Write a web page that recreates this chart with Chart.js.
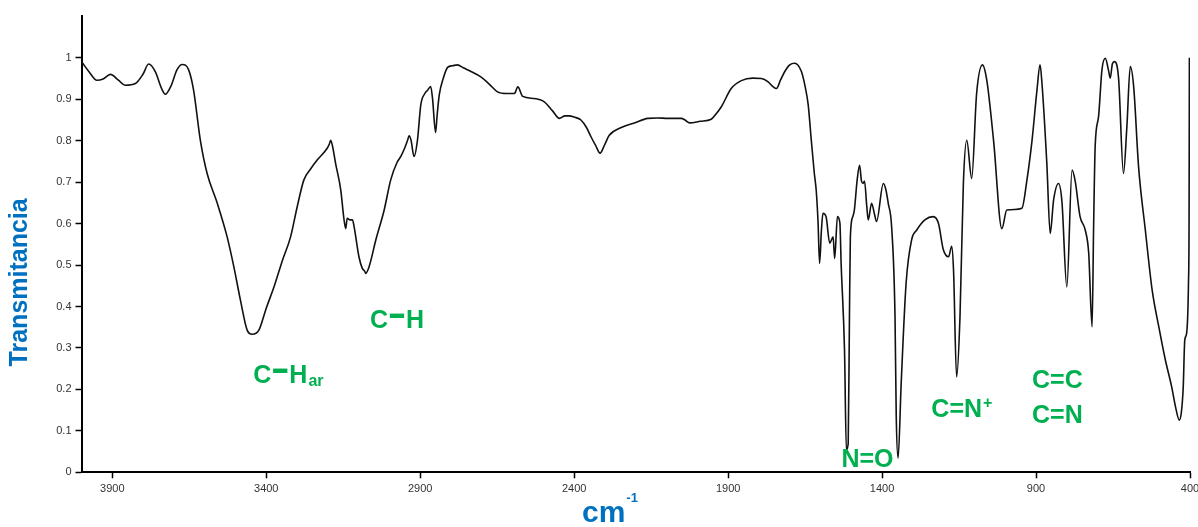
<!DOCTYPE html>
<html>
<head>
<meta charset="utf-8">
<title>Espectro IR</title>
<script src="https://cdn.jsdelivr.net/npm/chart.js@4.4.1/dist/chart.umd.min.js"></script>
<style>
  html, body { margin: 0; padding: 0; background: #ffffff; }
  #wrap { width: 1198px; height: 527px; position: relative; }
</style>
</head>
<body>
<div id="wrap"><canvas id="ir" width="1198" height="527"></canvas></div>
<script>
// Wavenumbers (cm-1), from high to low, and the transmittance at each one
const wavenumbers = [
  4000, 3975, 3950, 3930, 3906, 3880, 3858, 3825, 3800, 3782, 3760, 3740, 3728, 3710, 3690, 3673,
  3652, 3636, 3614, 3592, 3559, 3527, 3505, 3484, 3462, 3446, 3424, 3400, 3375, 3348, 3321, 3300,
  3278, 3255, 3234, 3202, 3195, 3191, 3185, 3175, 3158, 3148, 3142, 3137, 3128, 3120, 3115, 3099,
  3088, 3080, 3077, 3066, 3044, 3017, 2996, 2975, 2963, 2950, 2941, 2936, 2930, 2920, 2909, 2898,
  2885, 2876, 2866, 2860, 2850, 2845, 2838, 2825, 2811, 2795, 2779, 2760, 2735, 2703, 2675, 2649,
  2620, 2594, 2583, 2567, 2530, 2497, 2470, 2448, 2430, 2416, 2400, 2378, 2360, 2345, 2330, 2316,
  2300, 2286, 2247, 2204, 2161, 2130, 2096, 2052, 2040, 2025, 1990, 1955, 1940, 1922, 1890, 1857,
  1820, 1792, 1770, 1755, 1743, 1730, 1716, 1700, 1684, 1662, 1650, 1640, 1630, 1620, 1614, 1608,
  1603, 1597, 1592, 1582, 1570, 1559, 1554, 1545, 1537, 1533, 1522, 1516, 1510, 1506, 1503, 1495,
  1490, 1481, 1473, 1467, 1462, 1457, 1450, 1445, 1434, 1425, 1418, 1396, 1388, 1380, 1369, 1358,
  1354, 1348, 1338, 1322, 1304, 1288, 1261, 1234, 1217, 1201, 1184, 1174, 1168, 1158, 1147, 1136,
  1125, 1109, 1093, 1074, 1060, 1038, 1011, 995, 970, 946, 930, 913, 897, 887, 881, 865,
  854, 843, 827, 816, 800, 783, 773, 757, 740, 729, 718, 713, 708, 697, 686, 675,
  665, 659, 652, 645, 632, 616, 605, 594, 583, 567, 545, 523, 500, 480, 460, 447,
  435, 428, 422, 417, 411, 405, 403, 402
];
const transmittance = [
  0.991, 0.966, 0.946, 0.949, 0.960, 0.946, 0.934, 0.938, 0.961, 0.985, 0.966, 0.926, 0.912, 0.931, 0.971, 0.984,
  0.971, 0.922, 0.801, 0.721, 0.649, 0.568, 0.495, 0.416, 0.343, 0.333, 0.343, 0.396, 0.447, 0.510, 0.568, 0.639,
  0.705, 0.733, 0.754, 0.782, 0.792, 0.801, 0.788, 0.746, 0.681, 0.613, 0.588, 0.613, 0.609, 0.609, 0.594, 0.520,
  0.492, 0.485, 0.480, 0.496, 0.561, 0.633, 0.705, 0.748, 0.762, 0.783, 0.801, 0.812, 0.802, 0.762, 0.801, 0.887,
  0.914, 0.922, 0.931, 0.902, 0.820, 0.862, 0.911, 0.951, 0.977, 0.981, 0.983, 0.976, 0.967, 0.954, 0.936, 0.918,
  0.914, 0.914, 0.930, 0.907, 0.902, 0.894, 0.872, 0.854, 0.860, 0.860, 0.857, 0.850, 0.832, 0.809, 0.788, 0.770,
  0.792, 0.813, 0.832, 0.843, 0.854, 0.855, 0.854, 0.854, 0.850, 0.843, 0.847, 0.852, 0.864, 0.882, 0.926, 0.945,
  0.951, 0.950, 0.942, 0.931, 0.926, 0.946, 0.967, 0.983, 0.987, 0.967, 0.931, 0.887, 0.802, 0.721, 0.681, 0.604,
  0.504, 0.584, 0.625, 0.617, 0.553, 0.568, 0.516, 0.617, 0.601, 0.504, 0.295, 0.054, 0.070, 0.375, 0.568, 0.617,
  0.633, 0.705, 0.741, 0.703, 0.697, 0.703, 0.644, 0.609, 0.649, 0.624, 0.605, 0.697, 0.683, 0.649, 0.592, 0.375,
  0.134, 0.034, 0.214, 0.456, 0.561, 0.584, 0.609, 0.617, 0.601, 0.537, 0.520, 0.545, 0.488, 0.230, 0.375, 0.697,
  0.801, 0.709, 0.914, 0.983, 0.946, 0.801, 0.588, 0.633, 0.634, 0.637, 0.703, 0.801, 0.922, 0.983, 0.941, 0.746,
  0.576, 0.657, 0.697, 0.654, 0.447, 0.729, 0.703, 0.617, 0.584, 0.529, 0.351, 0.594, 0.786, 0.858, 0.971, 0.999,
  0.971, 0.951, 0.986, 0.991, 0.951, 0.721, 0.834, 0.979, 0.931, 0.737, 0.584, 0.440, 0.346, 0.271, 0.208, 0.158,
  0.126, 0.145, 0.205, 0.319, 0.335, 0.455, 0.609, 1.000
];

// Axis tick positions
const xTickValues = [3900, 3400, 2900, 2400, 1900, 1400, 900, 400];
const yTickValues = [0, 0.1, 0.2, 0.3, 0.4, 0.5, 0.6, 0.7, 0.8, 0.9, 1];

// Band assignments: text, optional subscript / superscript, anchor (wavenumber, transmittance)
const bandText = ['C\u2013H', 'C\u2013H', 'N=O', 'C=N', 'C=C', 'C=N'];
const bandSub = ['ar', '', '', '', '', ''];
const bandSup = ['', '', '', '+', '', ''];
const bandWavenumber = [3442, 3063, 1532, 1240, 913, 913];
const bandTransmittance = [0.2147, 0.3474, 0.0135, 0.1327, 0.2041, 0.1182];

const FONT = "'Liberation Sans', Arial, Helvetica, sans-serif";
const GREEN = '#00b050';
const BLUE = '#0070c0';

const points = wavenumbers.map((w, i) => ({ x: w, y: transmittance[i] }));

const annotationPlugin = {
  id: 'bandLabels',
  afterDatasetsDraw(chart) {
    const ctx = chart.ctx;
    const xs = chart.scales.x, ys = chart.scales.y;
    ctx.save();
    ctx.textBaseline = 'alphabetic';
    ctx.textAlign = 'left';
    ctx.fillStyle = GREEN;
    bandText.forEach((t, i) => {
      const px = xs.getPixelForValue(bandWavenumber[i]);
      const py = ys.getPixelForValue(bandTransmittance[i]);
      ctx.font = 'bold 25px ' + FONT;
      let w;
      if (t.indexOf('\u2013') >= 0) {
        // heavy, raised bond dash between the two atoms
        const parts = t.split('\u2013');
        let cx = px;
        ctx.fillText(parts[0], cx, py);
        cx += ctx.measureText(parts[0]).width + 1;
        const dw = ctx.measureText('\u2013').width;
        ctx.save();
        ctx.translate(cx, py);
        ctx.scale(1.15, 1.8);
        ctx.fillText('\u2013', 0, 0);
        ctx.restore();
        cx += dw * 1.15 + 1;
        ctx.fillText(parts[1], cx, py);
        w = cx + ctx.measureText(parts[1]).width - px;
      } else {
        ctx.fillText(t, px, py);
        w = ctx.measureText(t).width;
      }
      if (bandSub[i]) {
        ctx.font = 'bold 16px ' + FONT;
        ctx.fillText(bandSub[i], px + w + 1, py + 3);
      }
      if (bandSup[i]) {
        ctx.font = 'bold 16px ' + FONT;
        ctx.fillText(bandSup[i], px + w + 1, py - 9);
      }
    });

    // axis titles
    const area = chart.chartArea;
    ctx.fillStyle = BLUE;
    ctx.font = 'bold 25px ' + FONT;
    ctx.save();
    ctx.translate(27, (area.top + area.bottom) / 2 + 38);
    ctx.rotate(-Math.PI / 2);
    ctx.textAlign = 'center';
    ctx.fillText('Transmitancia', 0, 0);
    ctx.restore();

    ctx.textAlign = 'left';
    ctx.font = 'bold 30px ' + FONT;
    ctx.fillText('cm', 582, 522);
    const cw = ctx.measureText('cm').width;
    ctx.font = 'bold 13px ' + FONT;
    ctx.fillText('-1', 582 + cw + 1, 502);
    ctx.restore();
  }
};

new Chart(document.getElementById('ir'), {
  type: 'line',
  data: {
    datasets: [{
      data: points,
      borderColor: '#111111',
      borderWidth: 1.6,
      pointRadius: 0,
      cubicInterpolationMode: 'monotone',
      fill: false
    }]
  },
  options: {
    responsive: false,
    animation: false,
    devicePixelRatio: 1,
    layout: { padding: { left: 0, top: 16.4, right: 8, bottom: 0 } },
    plugins: { legend: { display: false }, tooltip: { enabled: false } },
    scales: {
      x: {
        type: 'linear',
        reverse: true,
        min: 400,
        max: 4000,
        afterBuildTicks(scale) { scale.ticks = xTickValues.map(v => ({ value: v })); },
        afterFit(scale) { scale.height = 54.7; scale.paddingLeft = 0; scale.paddingRight = 0; },
        ticks: {
          autoSkip: false,
          maxRotation: 0,
          padding: 4,
          color: '#333333',
          font: { family: FONT, size: 11 },
          callback: v => String(v)
        },
        grid: {
          display: true,
          drawOnChartArea: false,
          drawTicks: true,
          tickLength: 6,
          tickColor: '#000000',
          tickWidth: 1.5,
          color: '#000000'
        },
        border: { display: true, color: '#000000', width: 2 }
      },
      y: {
        type: 'linear',
        min: 0,
        max: 1.1,
        afterBuildTicks(scale) { scale.ticks = yTickValues.map(v => ({ value: v })); },
        afterFit(scale) { scale.width = 81.5; },
        ticks: {
          autoSkip: false,
          padding: 4,
          color: '#333333',
          font: { family: FONT, size: 11 },
          callback: v => String(v)
        },
        grid: {
          display: true,
          drawOnChartArea: false,
          drawTicks: true,
          tickLength: 6,
          tickColor: '#000000',
          tickWidth: 1.5,
          color: '#000000'
        },
        border: { display: true, color: '#000000', width: 2 }
      }
    }
  },
  plugins: [annotationPlugin]
});
</script>
</body>
</html>
